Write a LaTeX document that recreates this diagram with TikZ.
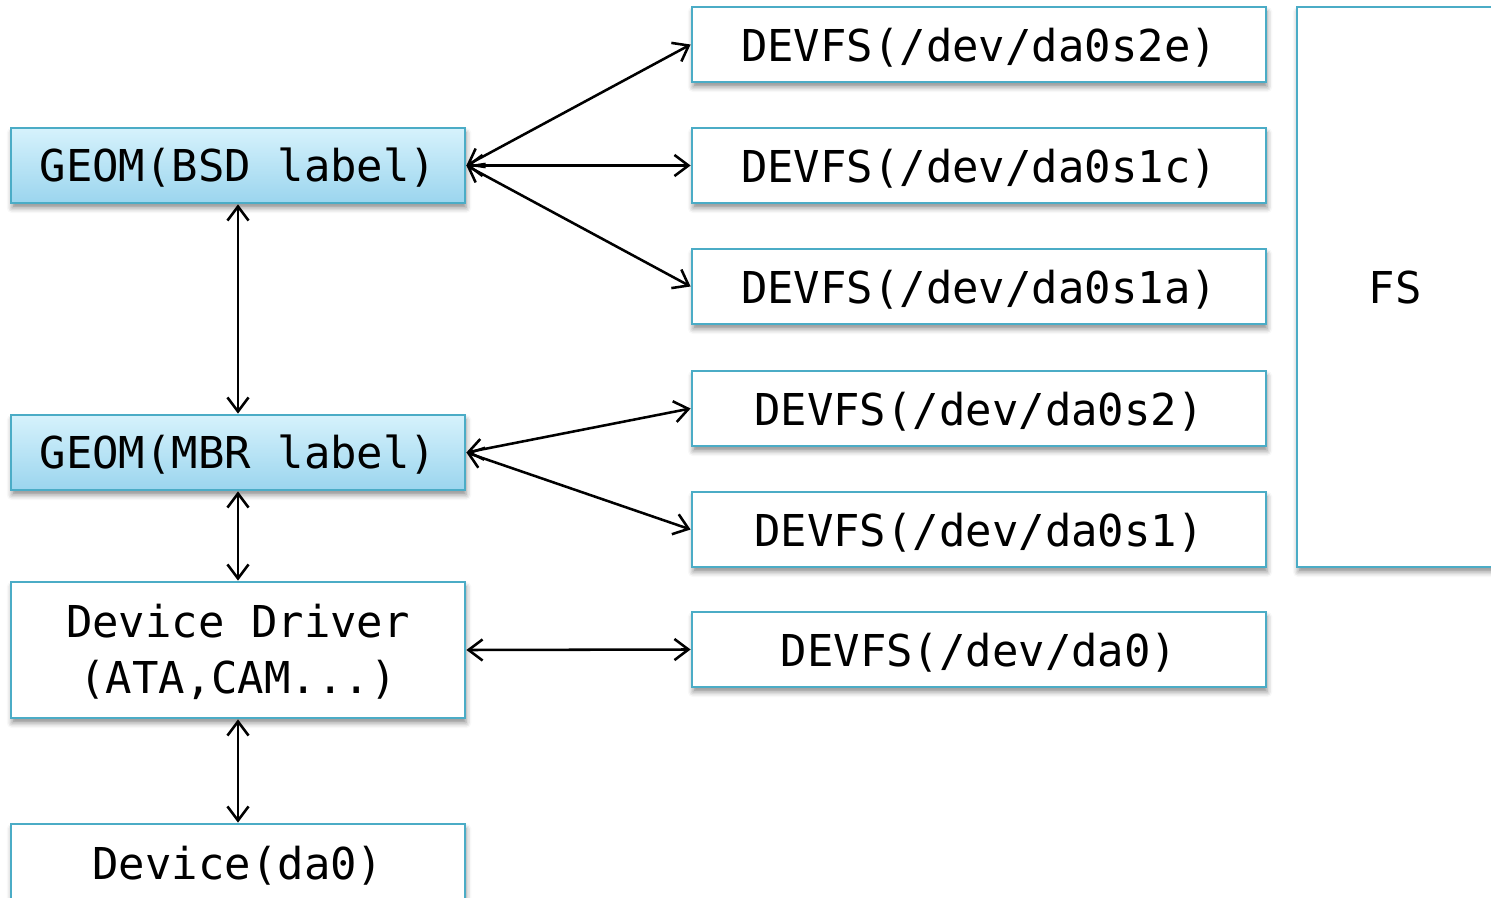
\documentclass[tikz,border=0pt]{standalone}
\usepackage{fontspec}
\setmonofont{DejaVu Sans Mono}
\usetikzlibrary{arrows.meta,shadows.blur}
\definecolor{boxline}{HTML}{4BACC6}
\definecolor{geomtop}{HTML}{D6F2FC}
\definecolor{geombot}{HTML}{9BD5EE}
\tikzset{
  box/.style={draw=boxline, line width=1.6pt, fill=white, rectangle, inner sep=0pt,
    minimum width=454*0.02cm, minimum height=75*0.02cm,
    font=\ttfamily\fontsize{25}{32}\selectfont, align=center,
    text height=22pt, text depth=3.3pt,
    blur shadow={shadow xshift=0.6pt, shadow yshift=-2.8pt, shadow blur radius=3pt, shadow opacity=45}},
  twoline/.style={text height=52pt, text depth=2pt},
  geom/.style={box, top color=geomtop, bottom color=geombot},
  devfs/.style={box, minimum width=574*0.02cm, text height=23pt, text depth=3.2pt},
  link/.style={line width=1.45pt, {Straight Barb[length=8pt,width=12pt,line width=1.45pt]}-{Straight Barb[length=8pt,width=12pt,line width=1.45pt]}}
}
\begin{document}
\begin{tikzpicture}[x=0.02cm, y=-0.02cm]
\useasboundingbox (0,0) rectangle (1491,898);

% storage stack on the left
\node[geom] (bsd) at (238,165.5) {GEOM(BSD label)};
\node[geom] (mbr) at (238,452.5) {GEOM(MBR label)};
\node[box, twoline, minimum height=136*0.02cm] (drv) at (238,650) {Device Driver\\(ATA,CAM...)};
\node[box, minimum height=78*0.02cm] (dev) at (238,863) {Device(da0)};

% device nodes exported through devfs
\node[devfs] (s2e) at (979,44.5) {DEVFS(/dev/da0s2e)};
\node[devfs] (s1c) at (979,165.5) {DEVFS(/dev/da0s1c)};
\node[devfs] (s1a) at (979,286.5) {DEVFS(/dev/da0s1a)};
\node[devfs] (s2) at (979,408.5) {DEVFS(/dev/da0s2)};
\node[devfs] (s1) at (979,529.5) {DEVFS(/dev/da0s1)};
\node[devfs] (da0) at (979,649.5) {DEVFS(/dev/da0)};

% file system layer
\node[box, minimum width=196*0.02cm, minimum height=560*0.02cm] (fs) at (1395,287) {FS};

% connections
\draw[link] (bsd.east) -- (s2e.west);
\draw[link] (bsd.east) -- (s1c.west);
\draw[link] (bsd.east) -- (s1a.west);
\draw[link] (mbr.east) -- (s2.west);
\draw[link] (mbr.east) -- (s1.west);
\draw[link] (drv.east) -- (da0.west);
\draw[link] (bsd.south) -- (mbr.north);
\draw[link] (mbr.south) -- (drv.north);
\draw[link] (drv.south) -- (dev.north);
\end{tikzpicture}
\end{document}
